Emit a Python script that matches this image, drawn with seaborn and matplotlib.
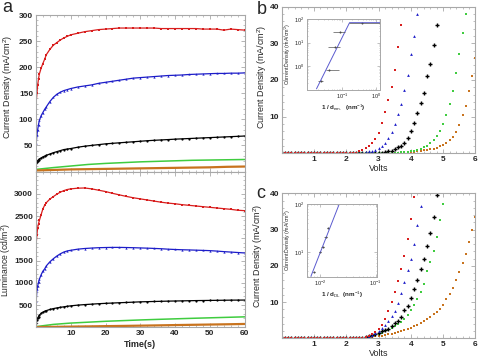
import numpy as np
import pandas as pd
import matplotlib
matplotlib.use("Agg")
import matplotlib.pyplot as plt
import seaborn as sns
from matplotlib.ticker import MultipleLocator, NullFormatter

sns.set_style("ticks")
plt.rcParams['font.family'] = ['Liberation Sans', 'DejaVu Sans']
plt.rcParams['mathtext.fontset'] = 'custom'
plt.rcParams['mathtext.rm'] = 'Liberation Sans'
plt.rcParams['mathtext.it'] = 'Liberation Sans:italic'

# ---------------- Panel a data ----------------
time_s = [0.1, 0.3, 0.5, 0.75, 1, 1.5, 2, 2.5, 3, 4, 5, 6, 7, 8, 9, 10, 12, 14, 16, 18, 20,
          22, 24, 26, 28, 30, 32, 34, 36, 38, 40, 42, 44, 46, 48, 50, 52, 54, 56, 58, 60]
cur_red = [135, 150, 165, 178, 187, 198, 207, 215, 224, 234, 242, 247, 252, 256, 259, 262, 265, 268, 270, 272, 273,
           274, 275, 275, 275, 275, 275, 275, 274, 274, 274, 274, 274, 274, 273, 273, 273, 271, 273, 272, 271]
cur_blue = [55, 70, 80, 90, 98, 107, 113, 119, 124, 134, 142, 148, 152, 155, 157, 159, 162, 164, 166, 169, 171,
            173, 175, 177, 179, 180, 181, 182, 183, 184, 184.5, 185, 186, 186.5, 187, 187.5, 188, 188, 188.5, 188.5, 189]
cur_black = [17, 19, 21, 22.5, 24, 26, 28, 29.5, 31, 33.5, 36, 38, 40, 42, 43, 44, 46.5, 48.5, 50, 51.5, 53,
             54, 55, 56, 57, 58, 59, 59.8, 60.5, 61.2, 62, 62.6, 63.2, 63.8, 64.4, 65, 65.6, 66.2, 66.8, 67.4, 68]
lum_red = [1900, 2080, 2240, 2330, 2400, 2530, 2660, 2740, 2800, 2880, 2935, 2990, 3035, 3070, 3095, 3110, 3125, 3130,
           3110, 3080, 3050, 3010, 2975, 2940, 2910, 2885, 2860, 2835, 2810, 2790, 2775, 2755, 2740, 2725, 2710, 2695,
           2680, 2665, 2650, 2630, 2620]
lum_blue = [600, 850, 930, 1010, 1080, 1180, 1260, 1310, 1380, 1470, 1540, 1600, 1650, 1690, 1715, 1730, 1755, 1770,
            1780, 1788, 1792, 1795, 1795, 1792, 1788, 1783, 1778, 1772, 1765, 1755, 1748, 1742, 1738, 1733, 1728, 1722,
            1712, 1700, 1690, 1680, 1670]
lum_black = [100, 170, 210, 240, 270, 315, 340, 360, 375, 400, 420, 435, 448, 460, 472, 482, 498, 510, 520, 530, 538,
             545, 552, 558, 565, 572, 576, 580, 584, 588, 591, 594, 597, 600, 602, 604, 606, 608, 610, 611, 612]

time_line = [0, 5, 10, 15, 20, 25, 30, 35, 40, 45, 50, 55, 60]
cur_green = [4, 7.5, 10.5, 13.5, 15.5, 17, 18.5, 19.5, 20.5, 21.5, 22, 22.5, 23]
cur_orange = [2, 3, 4, 4.5, 5, 5.5, 6, 6.5, 7, 7.5, 8, 9, 9.5]
lum_green = [15, 65, 95, 115, 135, 150, 165, 178, 190, 202, 213, 224, 235]
lum_orange = [5, 10, 15, 20, 26, 31, 37, 43, 50, 56, 62, 68, 75]

# ---------------- Panel b / c data ----------------
volts = [0.0, 0.1, 0.2, 0.3, 0.4, 0.5, 0.6, 0.7, 0.8, 0.9, 1.0, 1.1, 1.2, 1.3, 1.4, 1.5, 1.6, 1.7, 1.8, 1.9,
         2.0, 2.1, 2.2, 2.3, 2.4, 2.5, 2.6, 2.7, 2.8, 2.9, 3.0, 3.1, 3.2, 3.3, 3.4, 3.5, 3.6, 3.7, 3.8, 3.9,
         4.0, 4.1, 4.2, 4.3, 4.4, 4.5, 4.6, 4.7, 4.8, 4.9, 5.0, 5.1, 5.2, 5.3, 5.4, 5.5, 5.6, 5.7, 5.8, 5.9, 6.0]

b_red = [0.0] * 23 + [0.2, 0.5, 0.9, 1.4, 2.1, 2.9, 4.0, 5.6, 8.2, 11.3, 14.5, 18.2, 22.7, 29, 35, 41]
b_blue = [0.0] * 26 + [0.3, 0.5, 0.7, 1.0, 1.4, 2.0, 2.8, 4.1, 5.9, 8.0, 10.8, 13.5, 17.3, 21.5, 27, 32, 38, 44]
b_black = [0.0] * 31 + [0.2, 0.35, 0.5, 0.7, 1.1, 1.6, 2.1, 2.9, 4.2, 6.0, 8.4, 11.0, 13.6, 16.5, 21, 24.5, 29.5,
                        35, 40.5]
b_green = [0.0] * 35 + [0.1, 0.15, 0.25, 0.3, 0.4, 0.55, 0.7, 0.9, 1.2, 1.6, 2.1, 2.8, 3.6, 4.7, 6.2, 8.0, 10.5,
                        13.5, 17, 22, 27, 32.7, 38, 44]
b_orange = [0.0] * 38 + [0.15, 0.2, 0.3, 0.4, 0.5, 0.65, 0.8, 0.95, 1.1, 1.3, 1.5, 1.9, 2.3, 2.8, 3.5, 4.5, 5.8,
                         7.8, 10.5, 13, 17, 21, 26]

c_red = [0.0] * 25 + [0.2, 0.4, 0.7, 1.1, 1.7, 2.6, 3.7, 5.3, 7.5, 9.9, 12.7, 15.8, 19, 22.8, 27.5, 33, 39, 45]
c_blue = [0.0] * 26 + [0.3, 0.5, 0.9, 1.4, 2.0, 2.9, 3.7, 4.8, 6.2, 7.6, 9.8, 12.6, 15.4, 18.8, 22, 26, 31.3, 36.5, 42]
c_black = [0.0] * 26 + [0.3, 0.5, 0.8, 1.1, 1.5, 1.9, 2.2, 2.7, 3.3, 4.1, 4.9, 6.0, 7.7, 9.0, 11.2, 13.5, 16, 19, 22,
                        25.4, 29, 33.5, 39.5]
c_green = [0.0] * 26 + [0.3, 0.45, 0.7, 1.0, 1.3, 1.6, 2.0, 2.4, 2.9, 3.5, 3.9, 4.6, 5.4, 6.3, 7.7, 9.2, 10.8, 12.8,
                        15, 18.5, 21, 24, 28, 32.6, 37, 42]
c_orange = [0.0] * 25 + [0.15, 0.2, 0.3, 0.4, 0.5, 0.6, 0.75, 0.9, 1.1, 1.3, 1.5, 1.7, 1.95, 2.2, 2.5, 2.9, 3.3, 3.7,
                         4.2, 4.8, 5.3, 5.9, 6.6, 7.3, 8.1, 9.3, 10.8, 12.3, 14, 16, 18.2, 20.7, 23.3, 26.5, 29.9, 33.5]

# inset b
ib_x = [0.024, 0.043, 0.061, 0.089, 0.39]
ib_y = [0.25, 0.68, 6.4, 28, 70]
ib_xlo = [0.0197, 0.0338, 0.0397, 0.0559, 0.156]
ib_xhi = [0.0276, 0.0794, 0.085, 0.125, 1.3]
ib_fit_x = [0.018, 0.167, 1.3]
ib_fit_y = [0.112, 70, 70]
# inset c
ic_x = [0.0079, 0.0100, 0.0112, 0.0128, 0.0141]
ic_y = [3.9, 10, 13, 21, 32.6]
ic_xlo = [0.0075, 0.0095, 0.0106, 0.0121, 0.0134]
ic_xhi = [0.0083, 0.0105, 0.0118, 0.0135, 0.0148]
ic_fit_x = [0.0069, 0.0222]
ic_fit_y = [3.1, 100]

RED = '#d81e1e'
BLUE = '#1c1cc8'
BLACK = '#000000'
GREEN = '#3fcc3f'
ORANGE = '#c8731e'
FRAME = '#a8a8a8'

fig = plt.figure(figsize=(4.8, 3.61), dpi=100)

def style(ax, fs=6):
    for s in ax.spines.values():
        s.set_color(FRAME)
        s.set_linewidth(0.8)
    ax.tick_params(which='both', direction='in', top=True, right=True, color=FRAME,
                   labelsize=fs, pad=2)
    ax.tick_params(which='major', length=3, width=0.6)
    ax.tick_params(which='minor', length=1.5, width=0.5)
    for lab in ax.get_xticklabels() + ax.get_yticklabels():
        lab.set_fontweight('bold')

# ---- panel a
ax1 = fig.add_axes([35.9 / 480, 1 - 171.5 / 361, 208.8 / 480, 156.5 / 361])
ax2 = fig.add_axes([35.9 / 480, 1 - 327.3 / 361, 208.8 / 480, 155.8 / 361])

for ys, c, m in [(cur_red, RED, 's'), (cur_blue, BLUE, '^'), (cur_black, BLACK, 'o')]:
    sns.lineplot(x=time_s, y=ys, ax=ax1, color=c, lw=0.9, marker=m, markersize=1.6,
                 markeredgewidth=0)
sns.lineplot(x=time_line, y=cur_green, ax=ax1, color=GREEN, lw=1.1)
sns.lineplot(x=time_line, y=cur_orange, ax=ax1, color=ORANGE, lw=1.6)
ax1.set_xlim(0, 60)
ax1.set_ylim(0, 300)
ax1.set_yticks([50, 100, 150, 200, 250, 300])
ax1.set_xticks([10, 20, 30, 40, 50, 60])
ax1.xaxis.set_minor_locator(MultipleLocator(2))
ax1.yaxis.set_minor_locator(MultipleLocator(10))
ax1.set_xticklabels([])
ax1.set_ylabel('Current Density (mA/cm$^2$)', fontsize=6.5)
ax1.yaxis.set_label_coords(-0.098, 0.54)
style(ax1)

for ys, c, m in [(lum_red, RED, 's'), (lum_blue, BLUE, '^'), (lum_black, BLACK, 'o')]:
    sns.lineplot(x=time_s, y=ys, ax=ax2, color=c, lw=0.9, marker=m, markersize=1.6,
                 markeredgewidth=0)
sns.lineplot(x=time_line, y=lum_green, ax=ax2, color=GREEN, lw=1.1)
sns.lineplot(x=time_line, y=lum_orange, ax=ax2, color=ORANGE, lw=1.6)
ax2.set_xlim(0, 60)
ax2.set_ylim(0, 3500)
ax2.set_yticks([500, 1000, 1500, 2000, 2500, 3000])
ax2.set_xticks([10, 20, 30, 40, 50, 60])
ax2.xaxis.set_minor_locator(MultipleLocator(2))
ax2.yaxis.set_minor_locator(MultipleLocator(100))
ax2.set_ylabel('Luminance (cd/m$^2$)', fontsize=6.2)
ax2.yaxis.set_label_coords(-0.112, 0.43)
ax2.set_xlabel('Time(s)', fontsize=6.5, fontweight='bold', labelpad=2)
style(ax2)

# ---- panels b and c
def iv_panel(rect, series, ylab_x, ylab_y):
    ax = fig.add_axes(rect)
    for ys, c, m, sz, lw in series:
        sns.scatterplot(x=volts[:len(ys)], y=ys, ax=ax, color=c, marker=m, s=sz, linewidth=lw)
    ax.set_xlim(0, 6)
    ax.set_ylim(0, 40)
    ax.set_xticks([1, 2, 3, 4, 5, 6])
    ax.set_yticks([10, 20, 30, 40])
    ax.xaxis.set_minor_locator(MultipleLocator(0.2))
    ax.yaxis.set_minor_locator(MultipleLocator(2))
    ax.set_xlabel('Volts', fontsize=6.5, labelpad=1)
    ax.set_ylabel('Current Density (mA/cm$^2$)', fontsize=6.5)
    ax.yaxis.set_label_coords(ylab_x, ylab_y)
    style(ax)
    return ax

axb = iv_panel([281.7 / 480, 1 - 153.3 / 361, 193.8 / 480, 146.6 / 361],
               [(b_orange, ORANGE, 's', 4, 0), (b_green, GREEN, 's', 3, 0), (b_black, BLACK, '+', 7, 1.0),
                (b_blue, BLUE, '^', 4, 0), (b_red, RED, 's', 3, 0)], -0.068, 0.52)
axc = iv_panel([281.7 / 480, 1 - 338.3 / 361, 193.8 / 480, 145 / 361],
               [(c_orange, ORANGE, 's', 4, 0), (c_green, GREEN, 's', 3, 0), (c_black, BLACK, '+', 7, 1.0),
                (c_blue, BLUE, '^', 4, 0), (c_red, RED, 's', 3, 0)], -0.086, 0.57)

def inset_style(ax):
    ax.set_xscale('log')
    ax.set_yscale('log')
    for s in ax.spines.values():
        s.set_color(FRAME)
        s.set_linewidth(0.7)
    ax.tick_params(which='both', direction='in', top=True, right=True, color=FRAME, labelsize=4, pad=1.5)
    ax.tick_params(which='major', length=2, width=0.5)
    ax.tick_params(which='minor', length=1, width=0.4)
    ax.xaxis.set_minor_formatter(NullFormatter())
    ax.yaxis.set_minor_formatter(NullFormatter())

# inset b
ib = fig.add_axes([306.7 / 480, 1 - 90 / 361, 73.3 / 480, 71 / 361])
ib_df = pd.DataFrame({'x': ib_x, 'y': ib_y})
sns.lineplot(x=ib_fit_x, y=ib_fit_y, ax=ib, color='#5a5acf', lw=0.7)
ib.errorbar(ib_x, ib_y, xerr=[np.array(ib_x) - np.array(ib_xlo), np.array(ib_xhi) - np.array(ib_x)],
            fmt='none', ecolor='#555555', elinewidth=0.5, capsize=0)
sns.scatterplot(data=ib_df, x='x', y='y', ax=ib, color='#333333', s=2, linewidth=0)
inset_style(ib)
ib.set_xlim(0.0093, 1.3)
ib.set_ylim(0.1, 100)
ib.set_xticks([0.1, 1])
ib.set_yticks([1, 10, 100])
ib.set_ylabel('Current Density (mA/cm$^2$)', fontsize=3.8, labelpad=1)
ib.set_xlabel('1 / d$_{\\mathrm{em.}}$  (nm$^{-1}$)', fontsize=4.5, fontweight='bold', labelpad=1)

# inset c
ic = fig.add_axes([306.7 / 480, 1 - 276.7 / 361, 70 / 480, 72.4 / 361])
ic_df = pd.DataFrame({'x': ic_x, 'y': ic_y})
sns.lineplot(x=ic_fit_x, y=ic_fit_y, ax=ic, color='#5a5acf', lw=0.7)
ic.errorbar(ic_x, ic_y, xerr=[np.array(ic_x) - np.array(ic_xlo), np.array(ic_xhi) - np.array(ic_x)],
            fmt='none', ecolor='#555555', elinewidth=0.5, capsize=0)
sns.scatterplot(data=ic_df, x='x', y='y', ax=ic, color='#333333', s=2, linewidth=0)
inset_style(ic)
ic.set_xlim(0.0058, 0.105)
ic.set_ylim(3.05, 100)
ic.set_xticks([0.01, 0.1])
ic.set_yticks([10, 100])
ic.set_ylabel('Current Density (mA/cm$^2$)', fontsize=3.8, labelpad=1)
ic.set_xlabel('1 / d$_{\\mathrm{DL}}$  (nm$^{-1}$)', fontsize=4.5, fontweight='bold', labelpad=1)

# panel letters
fig.text(7 / 480, 1 - 8 / 361, 'a', fontsize=13, va='center', ha='center')
fig.text(262 / 480, 1 - 10 / 361, 'b', fontsize=13, va='center', ha='center')
fig.text(261 / 480, 1 - 194 / 361, 'c', fontsize=13, va='center', ha='center')

fig.savefig('out.png', dpi=100)
